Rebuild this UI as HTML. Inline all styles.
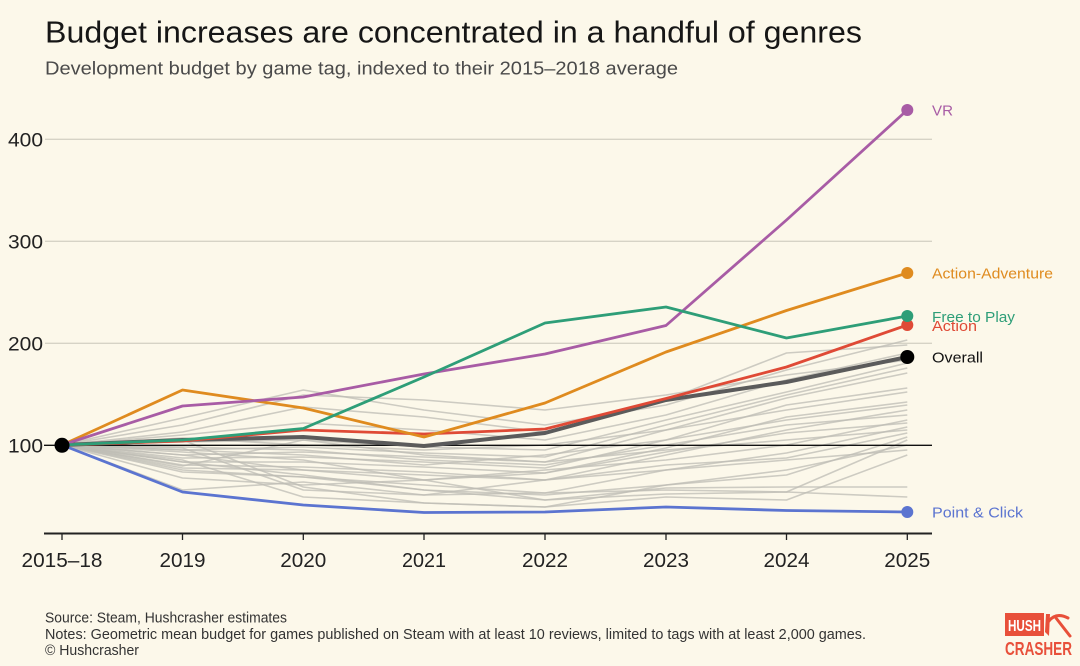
<!DOCTYPE html>
<html><head><meta charset="utf-8"><style>
html,body{margin:0;padding:0;background:#fcf8ea;}
svg{display:block;}
text{font-family:"Liberation Sans",sans-serif;}
</style></head><body>
<svg width="1080" height="666" viewBox="0 0 1080 666" xmlns="http://www.w3.org/2000/svg">
<rect x="0" y="0" width="1080" height="666" fill="#fcf8ea"/>
<text x="45" y="42.5" font-size="31" fill="#161616" textLength="817" lengthAdjust="spacingAndGlyphs">Budget increases are concentrated in a handful of genres</text>
<text x="45" y="74.5" font-size="18" fill="#4a4a4a" textLength="633" lengthAdjust="spacingAndGlyphs">Development budget by game tag, indexed to their 2015–2018 average</text>

<!-- gridlines -->
<g stroke="#d6d3c6" stroke-width="1.3">
<line x1="45" y1="139.3" x2="932" y2="139.3"/>
<line x1="45" y1="241.3" x2="932" y2="241.3"/>
<line x1="45" y1="343.3" x2="932" y2="343.3"/>
</g>
<g font-size="19" fill="#222" text-anchor="end">
<text x="43" y="146.5" textLength="35" lengthAdjust="spacingAndGlyphs">400</text>
<text x="43" y="248.5" textLength="35" lengthAdjust="spacingAndGlyphs">300</text>
<text x="43" y="350.5" textLength="35" lengthAdjust="spacingAndGlyphs">200</text>
<text x="43" y="452.5" textLength="35" lengthAdjust="spacingAndGlyphs">100</text>
</g>

<!-- gray lines -->
<g fill="none" stroke="#bdbcb4" stroke-width="1.6" stroke-opacity="0.75" stroke-linejoin="round">
<polyline points="62,445 182.5,418 303.3,390 424,410 545,425 666,405 786.5,370 907.3,340"/>
<polyline points="62,445 182.5,432 303.3,407 424,417 545,432 666,400 786.5,353 907.3,345"/>
<polyline points="62,445 182.5,435 303.3,423 424,430 545,440 666,415 786.5,380 907.3,353"/>
<polyline points="62,445 182.5,442 303.3,440 424,447 545,450 666,420 786.5,392 907.3,363"/>
<polyline points="62,445 182.5,450 303.3,447 424,453 545,457 666,425 786.5,395 907.3,368"/>
<polyline points="62,445 182.5,455 303.3,452 424,457 545,462 666,430 786.5,398 907.3,373"/>
<polyline points="62,445 182.5,458 303.3,457 424,462 545,468 666,440 786.5,405 907.3,388"/>
<polyline points="62,445 182.5,462 303.3,462 424,467 545,473 666,448 786.5,417 907.3,402"/>
<polyline points="62,445 182.5,465 303.3,467 424,472 545,480 666,455 786.5,430 907.3,410"/>
<polyline points="62,445 182.5,468 303.3,470 424,480 545,473 666,452 786.5,433 907.3,423"/>
<polyline points="62,445 182.5,472 303.3,477 424,485 545,493 666,470 786.5,453 907.3,427"/>
<polyline points="62,445 182.5,490 303.3,482 424,495 545,480 666,465 786.5,458 907.3,433"/>
<polyline points="62,445 182.5,440 303.3,487 424,503 545,507 666,485 786.5,475 907.3,437"/>
<polyline points="62,445 182.5,448 303.3,490 424,495 545,493 666,490 786.5,492 907.3,440"/>
<polyline points="62,445 182.5,460 303.3,497 424,503 545,507 666,497 786.5,500 907.3,455"/>
<polyline points="62,445 182.5,470 303.3,477 424,490 545,500 666,488 786.5,487 907.3,487"/>
<polyline points="62,445 182.5,452 303.3,460 424,480 545,500 666,494 786.5,492 907.3,497"/>
<polyline points="62,445 182.5,425 303.3,395 424,400 545,410 666,395 786.5,375 907.3,360"/>
<polyline points="62,445 182.5,438 303.3,445 424,450 545,445 666,430 786.5,410 907.3,392"/>
<polyline points="62,445 182.5,447 303.3,450 424,460 545,465 666,445 786.5,425 907.3,415"/>
<polyline points="62,445 182.5,455 303.3,470 424,475 545,480 666,470 786.5,460 907.3,450"/>
<polyline points="62,445 182.5,478 303.3,485 424,480 545,470 666,460 786.5,445 907.3,420"/>
<polyline points="62,445 182.5,462 303.3,475 424,490 545,495 666,485 786.5,470 907.3,445"/>
<polyline points="62,445 182.5,450 303.3,455 424,465 545,455 666,440 786.5,420 907.3,405"/>
<polyline points="62,445 182.5,466 303.3,440 424,455 545,462 666,450 786.5,440 907.3,430"/>
</g>

<!-- 100 baseline -->
<line x1="44" y1="445.3" x2="932" y2="445.3" stroke="#111" stroke-width="1.3"/>

<!-- overall -->
<polyline points="62,445 182.5,440 303.3,437 424,446 545,433 666,400 786.5,382 907.3,357" fill="none" stroke="#5b5b5b" stroke-width="4" stroke-linejoin="round"/>

<g fill="none" stroke-width="2.8" stroke-linejoin="round">
<polyline points="62,445 182.5,492 303.3,505 424,512.5 545,512 666,507 786.5,510.5 907.3,512" stroke="#5b74d0"/>
<polyline points="62,445 182.5,441 303.3,430 424,434 545,429 666,398.5 786.5,367 907.3,325" stroke="#df4a36"/>
<polyline points="62,445 182.5,390 303.3,408 424,437 545,403 666,352 786.5,310.5 907.3,273" stroke="#df8b1f"/>
<polyline points="62,445 182.5,406 303.3,397 424,374 545,354 666,325.5 786.5,220 907.3,110" stroke="#a85ca5"/>
<polyline points="62,445 182.5,440 303.3,428.5 424,377 545,323 666,307 786.5,338 907.3,316" stroke="#2e9e78"/>
</g>

<!-- dots -->
<circle cx="62" cy="445.3" r="7.5" fill="#000"/>
<circle cx="907.3" cy="110" r="6" fill="#a85ca5"/>
<circle cx="907.3" cy="273" r="6" fill="#df8b1f"/>
<circle cx="907.3" cy="325" r="6" fill="#df4a36"/>
<circle cx="907.3" cy="316" r="6" fill="#2e9e78"/>
<circle cx="907.3" cy="357" r="7" fill="#000"/>
<circle cx="907.3" cy="512" r="6" fill="#5b74d0"/>

<!-- labels right -->
<g font-size="15">
<text x="932" y="115.5" fill="#a85ca5" textLength="21" lengthAdjust="spacingAndGlyphs">VR</text>
<text x="932" y="278.5" fill="#df8b1f" textLength="121" lengthAdjust="spacingAndGlyphs">Action-Adventure</text>
<text x="932" y="331" fill="#df4a36" textLength="45" lengthAdjust="spacingAndGlyphs">Action</text>
<text x="932" y="322" fill="#2e9e78" textLength="83" lengthAdjust="spacingAndGlyphs">Free to Play</text>
<text x="932" y="362.5" fill="#111" textLength="51" lengthAdjust="spacingAndGlyphs">Overall</text>
<text x="932" y="517.5" fill="#5b74d0" textLength="91" lengthAdjust="spacingAndGlyphs">Point &amp; Click</text>
</g>

<!-- x axis -->
<line x1="44" y1="533.5" x2="932" y2="533.5" stroke="#222" stroke-width="2"/>
<g stroke="#222" stroke-width="1.3">
<line x1="62" y1="533" x2="62" y2="540"/>
<line x1="182.5" y1="533" x2="182.5" y2="540"/>
<line x1="303.3" y1="533" x2="303.3" y2="540"/>
<line x1="424" y1="533" x2="424" y2="540"/>
<line x1="545" y1="533" x2="545" y2="540"/>
<line x1="666" y1="533" x2="666" y2="540"/>
<line x1="786.5" y1="533" x2="786.5" y2="540"/>
<line x1="907.3" y1="533" x2="907.3" y2="540"/>
</g>
<g font-size="20" fill="#222" text-anchor="middle">
<text x="62" y="567" textLength="81" lengthAdjust="spacingAndGlyphs">2015–18</text>
<text x="182.5" y="567" textLength="46" lengthAdjust="spacingAndGlyphs">2019</text>
<text x="303.3" y="567" textLength="46" lengthAdjust="spacingAndGlyphs">2020</text>
<text x="424" y="567" textLength="44" lengthAdjust="spacingAndGlyphs">2021</text>
<text x="545" y="567" textLength="46" lengthAdjust="spacingAndGlyphs">2022</text>
<text x="666" y="567" textLength="46" lengthAdjust="spacingAndGlyphs">2023</text>
<text x="786.5" y="567" textLength="46" lengthAdjust="spacingAndGlyphs">2024</text>
<text x="907.3" y="567" textLength="46" lengthAdjust="spacingAndGlyphs">2025</text>
</g>

<!-- footer -->
<g font-size="14.5" fill="#333">
<text x="45" y="622.3" textLength="242" lengthAdjust="spacingAndGlyphs">Source: Steam, Hushcrasher estimates</text>
<text x="45" y="639" textLength="821" lengthAdjust="spacingAndGlyphs">Notes: Geometric mean budget for games published on Steam with at least 10 reviews, limited to tags with at least 2,000 games.</text>
<text x="45" y="655" textLength="94" lengthAdjust="spacingAndGlyphs">© Hushcrasher</text>
</g>

<!-- logo -->
<rect x="1005" y="613" width="39" height="23" fill="#e8503a"/>
<text x="1008" y="631" font-size="16" font-weight="bold" fill="#fff" textLength="33" lengthAdjust="spacingAndGlyphs">HUSH</text>
<g fill="none" stroke="#e8503a" stroke-width="3" stroke-linecap="round">
<path d="M1049 621 Q1056 612 1068 618"/>
<line x1="1056" y1="618" x2="1070" y2="636"/>
</g>
<path d="M1046 614 L1050 614 L1049 636 L1045 632 Z" fill="#e8503a"/>
<text x="1005" y="655" font-size="18" font-weight="bold" fill="#e8503a" textLength="67" lengthAdjust="spacingAndGlyphs">CRASHER</text>
</svg>
</body></html>
